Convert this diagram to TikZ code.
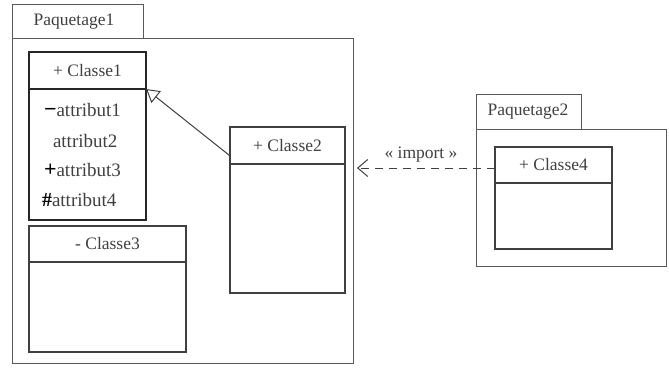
\documentclass[tikz,border=0pt]{standalone}
\usepackage{fontspec}
\setmainfont{Liberation Serif}
\usetikzlibrary{arrows.meta,positioning,calc}
\begin{document}
\begin{tikzpicture}[x=1pt,y=-1pt,
  every node/.style={inner sep=0pt,outer sep=0pt,font=\fontsize{17.5}{20}\selectfont,text=black!75},
  pkg/.style={draw=black!65,line width=1pt,anchor=north west},
  cls/.style={draw=black!75,line width=1.4pt,anchor=north west},
  boldcls/.style={draw=black!85,line width=2pt,anchor=north west},
  txt/.style={anchor=center},
  attr/.style={anchor=base west,font=\fontsize{19}{22}\selectfont},
  gen/.style={draw=black!75,line width=1pt,-{Triangle[open,length=13pt,width=15pt]}},
  dep/.style={draw=black!75,line width=1pt,dash pattern=on 8pt off 6pt,-{Straight Barb[length=10pt,width=17pt]}}
]
\useasboundingbox (0,0) rectangle (669,367);
% Paquetage1
\node[pkg,minimum width=131pt,minimum height=34pt] (p1tab) at (12,4) {};
\node[pkg,minimum width=341pt,minimum height=325pt] (p1) at (12,38) {};
\node[txt] (p1lbl) at (74,22) {Paquetage1};
% Paquetage2
\node[pkg,minimum width=105pt,minimum height=35pt] (p2tab) at (476,94) {};
\node[pkg,minimum width=190pt,minimum height=137pt] (p2) at (476,129) {};
\node[txt] (p2lbl) at (528,112) {Paquetage2};
% Classe1
\node[boldcls,minimum width=117pt,minimum height=37pt] (c1h) at (29,52) {};
\node[boldcls,minimum width=117pt,minimum height=131pt] (c1b) at (29,89) {};
\node[txt] (c1t) at (c1h.center) {+ Classe1};
\node[attr] (a1) at (44,116) {\textcolor{black}{\textbf{\fontsize{22}{22}\selectfont −}}attribut1};
\node[attr] (a2) at (53,147) {attribut2};
\node[attr] (a3) at (44,176) {\textcolor{black}{\textbf{\fontsize{22}{22}\selectfont +}}attribut3};
\node[attr] (a4) at (42,206) {\textcolor{black}{\textbf{\fontsize{20}{20}\selectfont \#}}attribut4};
% Classe3
\node[cls,minimum width=157pt,minimum height=36pt] (c3h) at (29,226) {};
\node[cls,minimum width=157pt,minimum height=90pt] (c3b) at (29,262) {};
\node[txt] (c3t) at (c3h.center) {- Classe3};
% Classe2
\node[cls,minimum width=115pt,minimum height=37pt] (c2h) at (230,127) {};
\node[cls,minimum width=115pt,minimum height=129pt] (c2b) at (230,164) {};
\node[txt] (c2t) at (c2h.center) {+ Classe2};
% Classe4
\node[cls,minimum width=117pt,minimum height=36pt] (c4h) at (495,147) {};
\node[cls,minimum width=117pt,minimum height=66pt] (c4b) at (495,183) {};
\node[txt] (c4t) at (c4h.center) {+ Classe4};
% connectors
\coordinate (genstart) at ($(c2h.north west)!0.78!(c2h.south west)$);
\draw[gen] (genstart) -- (c1b.north east);
\coordinate (deptip) at (357,168);
\draw[dep] (c4h.west |- deptip) -- (deptip);
\node[txt] (imp) at (421,155) {« import »};
\end{tikzpicture}
\end{document}
